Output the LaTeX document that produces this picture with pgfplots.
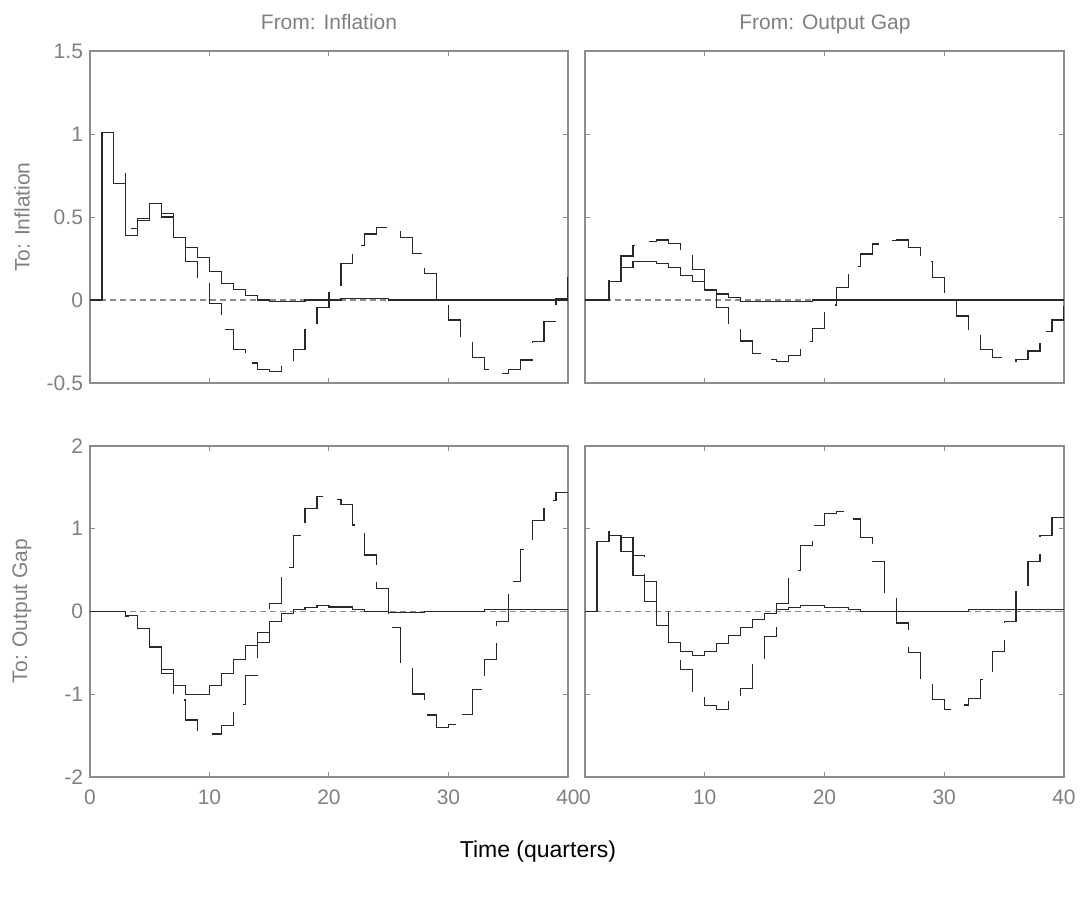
\documentclass[border=0pt]{standalone}
\usepackage{fontspec}
\setmainfont{Liberation Sans}
\usepackage{pgfplots}
\pgfplotsset{compat=1.18}
\definecolor{axgray}{RGB}{140,140,140}
\definecolor{txtgray}{RGB}{128,128,128}
\definecolor{linecol}{RGB}{40,40,40}
\definecolor{zerocol}{RGB}{140,140,140}
\pgfplotsset{
 panel/.style={
  scale only axis, width=239pt, height=166pt,
  xmin=0, xmax=40, xtick={0,10,20,30,40},
  axis line style={draw=axgray, line width=0.6pt},
  every tick/.style={draw=axgray, line width=0.5pt},
  tick align=inside, major tick length=2.5pt,
  ticklabel style={font=\fontsize{10.5}{12}\selectfont, text=txtgray},
  xticklabel style={yshift=-3pt},
  /pgf/number format/assume math mode=true,
 },
 sol/.style={const plot, line width=0.6pt, draw=linecol, mark=none},
 dsh/.style={const plot, line width=0.6pt, draw=linecol, mark=none, dash pattern=on 22pt off 8.5pt},
 zer/.style={line width=0.65pt, draw=zerocol, dash pattern=on 3pt off 2pt},
}
\begin{document}
\begin{tikzpicture}
\path[use as bounding box] (0,0) rectangle (541.5pt,-449.5pt);
% ---------- Top left ----------
\begin{axis}[panel, at={(45pt,-191.5pt)}, anchor=south west,
  ymin=-0.5, ymax=1.5, ytick={-0.5,0,0.5,1,1.5}, yticklabels={-0.5,0,0.5,1,1.5}, xticklabels={}]
\addplot[zer] coordinates {(0,0) (40,0)};
\addplot[sol] coordinates {(0,0)(1,1.01)(2,0.70)(3,0.39)(4,0.48)(5,0.58)(6,0.52)(7,0.375)(8,0.315)(9,0.255)(10,0.17)(11,0.098)(12,0.062)(13,0.026)(14,0)(15,-0.01)(16,-0.01)(17,-0.01)(18,0)(19,0)(20,0)(21,0.01)(22,0.01)(23,0.01)(24,0.01)(25,0)(26,0)(27,0)(28,0)(29,0)(30,0)(31,0)(32,0)(33,0)(34,0)(35,0)(36,0)(37,0)(38,0)(39,0)(40,0)};
\addplot[dsh] coordinates {(0,0)(1,1.01)(2,0.77)(3,0.43)(4,0.49)(5,0.58)(6,0.50)(7,0.375)(8,0.23)(9,0.125)(10,-0.02)(11,-0.177)(12,-0.297)(13,-0.38)(14,-0.418)(15,-0.432)(16,-0.38)(17,-0.297)(18,-0.165)(19,-0.044)(20,0.09)(21,0.22)(22,0.327)(23,0.398)(24,0.436)(25,0.41)(26,0.375)(27,0.279)(28,0.159)(29,0)(30,-0.12)(31,-0.24)(32,-0.345)(33,-0.418)(34,-0.442)(35,-0.418)(36,-0.361)(37,-0.251)(38,-0.13)(39,0.01)(40,0.14)};
\end{axis}
% ---------- Top right ----------
\begin{axis}[panel, at={(292.5pt,-191.5pt)}, anchor=south west, width=239.5pt,
  ymin=-0.5, ymax=1.5, ytick={-0.5,0,0.5,1,1.5}, yticklabels={}, xticklabels={}]
\addplot[zer] coordinates {(0,0) (40,0)};
\addplot[sol] coordinates {(0,0)(1,0)(2,0.11)(3,0.195)(4,0.231)(5,0.231)(6,0.22)(7,0.195)(8,0.147)(9,0.11)(10,0.06)(11,0.036)(12,0.014)(13,-0.008)(14,-0.008)(15,-0.008)(16,-0.008)(17,-0.008)(18,-0.008)(19,0)(20,0)(21,0)(22,0)(23,0)(24,0)(25,0)(26,0)(27,0)(28,0)(29,0)(30,0)(31,0)(32,0)(33,0)(34,0)(35,0)(36,0)(37,0)(38,0)(39,0)(40,0)};
\addplot[dsh] coordinates {(0,0)(1,0)(2,0.137)(3,0.265)(4,0.33)(5,0.351)(6,0.361)(7,0.341)(8,0.27)(9,0.185)(10,0.06)(11,-0.046)(12,-0.157)(13,-0.247)(14,-0.321)(15,-0.36)(16,-0.371)(17,-0.335)(18,-0.25)(19,-0.17)(20,-0.03)(21,0.074)(22,0.2)(23,0.277)(24,0.337)(25,0.36)(26,0.361)(27,0.317)(28,0.23)(29,0.135)(30,0)(31,-0.096)(32,-0.2)(33,-0.30)(34,-0.347)(35,-0.37)(36,-0.357)(37,-0.307)(38,-0.19)(39,-0.12)(40,0)};
\end{axis}
% ---------- Bottom left ----------
\begin{axis}[panel, at={(45pt,-388.5pt)}, anchor=south west, height=165.5pt,
  ymin=-2, ymax=2, ytick={-2,-1,0,1,2}, yticklabels={-2,-1,0,1,2}, xticklabels={0,10,20,30,40}]
\addplot[zer] coordinates {(0,0) (40,0)};
\addplot[sol] coordinates {(0,0)(1,0)(2,0)(3,-0.045)(4,-0.21)(5,-0.43)(6,-0.70)(7,-0.895)(8,-1.0)(9,-1.0)(10,-0.895)(11,-0.75)(12,-0.58)(13,-0.41)(14,-0.25)(15,-0.125)(16,-0.02)(17,0.025)(18,0.05)(19,0.075)(20,0.055)(21,0.055)(22,0.025)(23,0)(24,0)(25,-0.015)(26,-0.015)(27,-0.015)(28,0)(29,0)(30,0)(31,0)(32,0)(33,0.024)(34,0.024)(35,0.024)(36,0.024)(37,0.024)(38,0.024)(39,0.024)(40,0.024)};
\addplot[dsh] coordinates {(0,0)(1,0)(2,0)(3,-0.055)(4,-0.21)(5,-0.43)(6,-0.745)(7,-1.07)(8,-1.31)(9,-1.47)(10,-1.48)(11,-1.38)(12,-1.12)(13,-0.773)(14,-0.37)(15,0.093)(16,0.53)(17,0.923)(18,1.24)(19,1.39)(20,1.35)(21,1.29)(22,1.045)(23,0.684)(24,0.275)(25,-0.19)(26,-0.632)(27,-0.996)(28,-1.25)(29,-1.40)(30,-1.37)(31,-1.24)(32,-0.947)(33,-0.583)(34,-0.117)(35,0.36)(36,0.753)(37,1.097)(38,1.34)(39,1.44)(40,1.44)};
\end{axis}
% ---------- Bottom right ----------
\begin{axis}[panel, at={(292.5pt,-388.5pt)}, anchor=south west, width=239.5pt, height=165.5pt,
  ymin=-2, ymax=2, ytick={-2,-1,0,1,2}, yticklabels={}, xticklabels={0,10,20,30,40}]
\addplot[zer] coordinates {(0,0) (40,0)};
\addplot[sol] coordinates {(0,0)(1,0.847)(2,0.915)(3,0.726)(4,0.435)(5,0.12)(6,-0.17)(7,-0.375)(8,-0.484)(9,-0.532)(10,-0.484)(11,-0.387)(12,-0.29)(13,-0.194)(14,-0.097)(15,-0.024)(16,0.028)(17,0.048)(18,0.073)(19,0.073)(20,0.052)(21,0.052)(22,0.02)(23,0)(24,0)(25,0)(26,0)(27,0)(28,0)(29,0)(30,0)(31,0)(32,0.02)(33,0.02)(34,0.02)(35,0.02)(36,0.02)(37,0.02)(38,0.02)(39,0.02)(40,0.02)};
\addplot[dsh] coordinates {(0,0)(1,0.847)(2,0.97)(3,0.895)(4,0.677)(5,0.363)(6,0)(7,-0.37)(8,-0.70)(9,-1.0)(10,-1.137)(11,-1.18)(12,-1.07)(13,-0.927)(14,-0.62)(15,-0.30)(16,0.1)(17,0.5)(18,0.794)(19,1.036)(20,1.18)(21,1.21)(22,1.117)(23,0.895)(24,0.605)(25,0.17)(26,-0.14)(27,-0.5)(28,-0.83)(29,-1.06)(30,-1.18)(31,-1.13)(32,-1.05)(33,-0.82)(34,-0.484)(35,-0.12)(36,0.32)(37,0.605)(38,0.915)(39,1.137)(40,1.137)};
\end{axis}
% ---------- Labels ----------
\node[anchor=base, text=txtgray, font=\fontsize{10.5}{12}\selectfont] at (164.5pt,-15pt) {From: Inflation};
\node[anchor=base, text=txtgray, font=\fontsize{10.5}{12}\selectfont] at (412.5pt,-15pt) {From: Output Gap};
\node[text=txtgray, font=\fontsize{10.5}{12}\selectfont, rotate=90] at (11pt,-108.5pt) {To: Inflation};
\node[text=txtgray, font=\fontsize{10.5}{12}\selectfont, rotate=90] at (11pt,-305.5pt) {To: Output Gap};
\node[text=black, font=\fontsize{11.5}{13}\selectfont] at (269pt,-426pt) {Time (quarters)};
\end{tikzpicture}
\end{document}
